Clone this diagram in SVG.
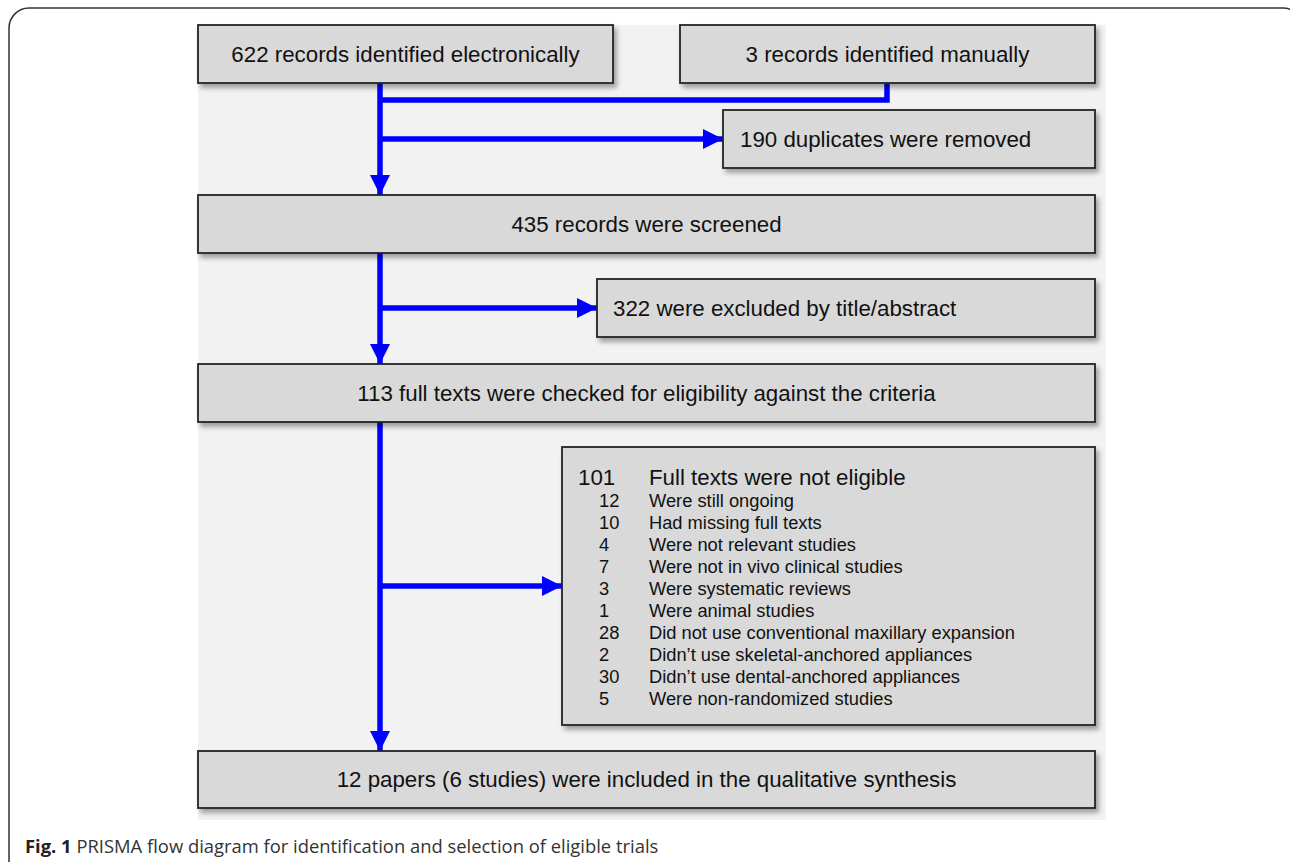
<svg xmlns="http://www.w3.org/2000/svg" width="1290" height="862" viewBox="0 0 1290 862">
<defs>
<filter id="sh" x="-5%" y="-20%" width="115%" height="160%">
<feDropShadow dx="3" dy="4" stdDeviation="2.5" flood-color="#000" flood-opacity="0.35"/>
</filter>
<marker id="ah" markerUnits="userSpaceOnUse" markerWidth="20" markerHeight="20" viewBox="0 0 18 18" refX="18" refY="9" orient="auto">
<polygon points="0,0 18,9 0,18" fill="#0000ff"/>
</marker>
</defs>
<style>
.box{fill:#d9d9d9;stroke:#222;stroke-width:1.8;filter:url(#sh)}
.t{font-family:"Liberation Sans",Arial,sans-serif;font-size:22.3px;fill:#111}
.s{font-family:"Liberation Sans",Arial,sans-serif;font-size:18.3px;fill:#111}
.c{stroke:#0000ff;stroke-width:5.5;fill:none}
.cap{font-family:"Open Sans","Noto Sans",sans-serif;font-size:18.4px;fill:#333}
</style>
<rect x="9" y="8" width="1294" height="900" rx="20" fill="#fff" stroke="#333" stroke-width="1.5"/>
<rect x="198" y="25" width="908" height="795" fill="#f2f2f2"/>
<g id="connectors">
<polyline class="c" points="887,83 887,100 380,100"/>
<line class="c" x1="380" y1="83" x2="380" y2="195" marker-end="url(#ah)"/>
<line class="c" x1="380" y1="139" x2="723" y2="139" marker-end="url(#ah)"/>
<line class="c" x1="380" y1="253" x2="380" y2="364" marker-end="url(#ah)"/>
<line class="c" x1="380" y1="308" x2="597" y2="308" marker-end="url(#ah)"/>
<line class="c" x1="380" y1="422" x2="380" y2="751" marker-end="url(#ah)"/>
<line class="c" x1="380" y1="586" x2="562" y2="586" marker-end="url(#ah)"/>
</g>
<g id="n1"><rect class="box" x="198" y="25" width="415" height="58"/><text class="t" x="405.5" y="62" text-anchor="middle">622 records identified electronically</text></g>
<g id="n2"><rect class="box" x="680" y="25" width="415" height="58"/><text class="t" x="887.5" y="62" text-anchor="middle">3 records identified manually</text></g>
<g id="n3"><rect class="box" x="723" y="110" width="372" height="58"/><text class="t" x="740" y="147">190 duplicates were removed</text></g>
<g id="n4"><rect class="box" x="198" y="195" width="897" height="58"/><text class="t" x="646.5" y="232" text-anchor="middle">435 records were screened</text></g>
<g id="n5"><rect class="box" x="597" y="279" width="498" height="58"/><text class="t" x="613" y="316">322 were excluded by title/abstract</text></g>
<g id="n6"><rect class="box" x="198" y="364" width="897" height="58"/><text class="t" x="646.5" y="401" text-anchor="middle">113 full texts were checked for eligibility against the criteria</text></g>
<g id="n7"><rect class="box" x="562" y="447" width="533" height="278"/>
<text class="t" x="578" y="485">101</text><text class="t" x="649" y="485">Full texts were not eligible</text>
<text class="s" x="599" y="507">12</text><text class="s" x="649" y="507">Were still ongoing</text>
<text class="s" x="599" y="529">10</text><text class="s" x="649" y="529">Had missing full texts</text>
<text class="s" x="599" y="551">4</text><text class="s" x="649" y="551">Were not relevant studies</text>
<text class="s" x="599" y="573">7</text><text class="s" x="649" y="573">Were not in vivo clinical studies</text>
<text class="s" x="599" y="595">3</text><text class="s" x="649" y="595">Were systematic reviews</text>
<text class="s" x="599" y="617">1</text><text class="s" x="649" y="617">Were animal studies</text>
<text class="s" x="599" y="639">28</text><text class="s" x="649" y="639">Did not use conventional maxillary expansion</text>
<text class="s" x="599" y="661">2</text><text class="s" x="649" y="661">Didn’t use skeletal-anchored appliances</text>
<text class="s" x="599" y="683">30</text><text class="s" x="649" y="683">Didn’t use dental-anchored appliances</text>
<text class="s" x="599" y="705">5</text><text class="s" x="649" y="705">Were non-randomized studies</text>
</g>
<g id="n8"><rect class="box" x="198" y="751" width="897" height="57"/><text class="t" x="646.5" y="787" text-anchor="middle">12 papers (6 studies) were included in the qualitative synthesis</text></g>
<text class="cap" x="25" y="853"><tspan font-weight="bold" fill="#222">Fig. 1</tspan> PRISMA flow diagram for identification and selection of eligible trials</text>
</svg>
